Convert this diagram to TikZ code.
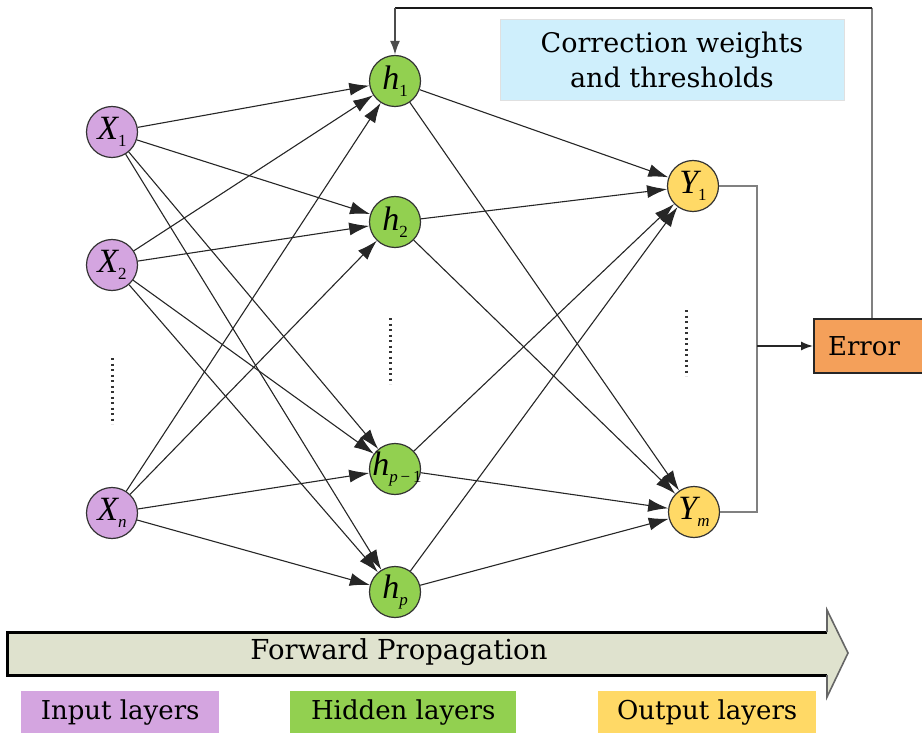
\documentclass[tikz,border=0pt]{standalone}
\usepackage{fontspec}
\setmainfont{DejaVu Serif}
\newfontfamily\lblfont{Liberation Serif}
\usetikzlibrary{arrows.meta,calc}
\definecolor{inpurple}{HTML}{D4A5E0}
\definecolor{hidgreen}{HTML}{92D050}
\definecolor{outyellow}{HTML}{FFD966}
\definecolor{errorange}{HTML}{F4A05A}
\definecolor{corrblue}{HTML}{CFEFFC}
\definecolor{fwdfill}{HTML}{DFE2CE}
% neuron label: italic letter with a lowered index
\newcommand\nlbl[2]{{\lblfont\itshape #1}\raisebox{-7pt}{\lblfont\fontsize{17}{17}\selectfont #2}}
\tikzset{
  neuron/.style={circle, draw=black!80, line width=1.2pt, minimum size=51pt, inner sep=0pt, font=\fontsize{34}{34}\selectfont},
  innode/.style={neuron, fill=inpurple},
  hidnode/.style={neuron, fill=hidgreen},
  outnode/.style={neuron, fill=outyellow},
  link/.style={draw=black!85, line width=1.1pt, -{Latex[length=20pt,width=13pt]}},
  wire/.style={draw=black!50, line width=2.2pt},
  legendbox/.style={minimum width=#1, minimum height=42pt, inner sep=0pt, font=\fontsize{26}{26}\selectfont},
  dotcol/.style={line width=3pt, dash pattern=on 2pt off 3.5pt, draw=black!80}
}
\begin{document}
\begin{tikzpicture}[x=1pt,y=-1pt]
\useasboundingbox (0,0) rectangle (922,733);

% correction box
\node[fill=corrblue, draw=black!12, line width=1pt, minimum width=344pt, minimum height=81pt, align=center,
      font=\fontsize{27}{35}\selectfont] (corr) at (672,60) {Correction weights\\and thresholds};

% input layer
\node[innode] (x1) at (112,132) {\nlbl{X}{1}};
\node[innode] (x2) at (112,265) {\nlbl{X}{2}};
\node[innode] (xn) at (112,513) {\nlbl{X}{\itshape n}};
% hidden layer
\node[hidnode] (h1) at (395,81) {\nlbl{h}{1}};
\node[hidnode] (h2) at (395,222) {\nlbl{h}{2}};
\node[hidnode] (hq) at (395,469) {\makebox[20pt][c]{\hspace*{4pt}\nlbl{h}{\itshape p\,\upshape −\,1}}};
\node[hidnode] (hp) at (395,592) {\nlbl{h}{\itshape p}};
% output layer
\node[outnode] (y1) at (693,186) {\nlbl{Y}{1}};
\node[outnode] (ym) at (694,512) {\nlbl{Y}{\itshape m}};

% vertical ellipses
\draw[dotcol] (112,358) -- (112,424);
\draw[dotcol] (390,318) -- (390,384);
\draw[dotcol] (686,310) -- (686,376);

% input -> hidden
\foreach \i in {x1,x2,xn}
  \foreach \h in {h1,h2,hq,hp}
    \draw[link] (\i) -- (\h);
% hidden -> output
\foreach \h in {h1,h2,hq,hp}
  \foreach \o in {y1,ym}
    \draw[link] (\h) -- (\o);

% error box
\node[fill=errorange, draw=black!85, line width=2pt, minimum width=112pt, minimum height=54pt, inner sep=0pt,
      anchor=west, font=\fontsize{26}{26}\selectfont] (err) at (813,346) {\hspace*{-12pt}Error};

% output bracket into error
\coordinate (bt) at (757,186);
\coordinate (bb) at (757,512);
\coordinate (bm) at (757,346);
\draw[wire] (y1.east) -- (bt) -- (bb) -- (ym.east);
\draw[draw=black!85, line width=1.5pt, -{Latex[length=12pt,width=9pt]}] (bm) -- (err.west);

% feedback to first hidden neuron
\coordinate (fa) at (872,8);
\coordinate (fb) at (395,8);
\draw[wire] (err.north -| fa) -- (fa);
\draw[draw=black!90, line width=2pt] (fa) -- (fb);
\draw[draw=black!70, line width=2pt, -{Latex[length=14pt,width=10pt]}] (fb) -- (h1.north);

% forward propagation arrow
\fill[fwdfill] (7,632) -- (827,632) -- (827,610) -- (848,653) -- (827,697) -- (827,675) -- (7,675) -- cycle;
\draw[black, line width=3pt] (827,632) -- (7,632) -- (7,675) -- (827,675);
\draw[black!60, line width=1.6pt] (827,632) -- (827,610) -- (848,653) -- (827,697) -- (827,675);
\node[font=\fontsize{27.5}{27.5}\selectfont] (fwd) at (399,652) {Forward Propagation};

% legend
\node[legendbox=198pt, fill=inpurple, anchor=north west] (lin) at (21,691) {Input layers};
\node[legendbox=226pt, fill=hidgreen, anchor=north west] (lhid) at (290,691) {Hidden layers};
\node[legendbox=218pt, fill=outyellow, anchor=north west] (lout) at (598,691) {Output layers};
\end{tikzpicture}
\end{document}
